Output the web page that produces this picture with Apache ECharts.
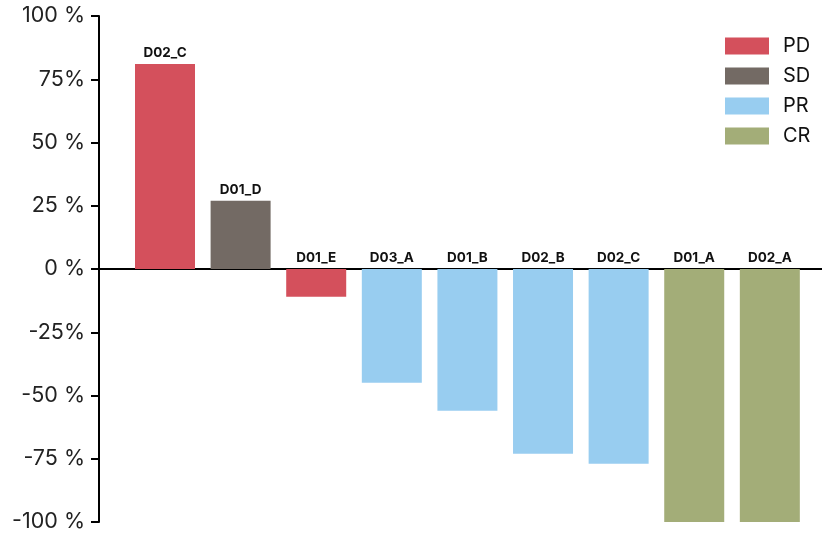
<!DOCTYPE html>
<html>
<head>
<meta charset="utf-8">
<script src="https://cdn.jsdelivr.net/npm/echarts@6/dist/echarts.min.js"></script>
<style>html,body{margin:0;padding:0;background:#fff;}#c{width:822px;height:535px;}</style>
</head>
<body>
<div id="c"></div>
<script>
const categories = ['D02_C','D01_D','D01_E','D03_A','D01_B','D02_B','D02_C','D01_A','D02_A'];
const values = [81, 27, -11, -45, -56, -73, -77, -100, -100];
const responses = ['PD','SD','PD','PR','PR','PR','PR','CR','CR'];
const groups = ['PD','SD','PR','CR'];
const colors = {PD:'#d4505c', SD:'#736a64', PR:'#98cdf0', CR:'#a3ad78'};
const tickValues = [100, 75, 50, 25, 0, -25, -50, -75, -100];
const tickLabels = ['100 %','75%','50 %','25 %','0 %','-25%','-50 %','-75 %','-100 %'];

const chart = echarts.init(document.getElementById('c'));
const series = groups.map(g => ({
  name: g,
  type: 'bar',
  barWidth: 60,
  barGap: '-100%',
  itemStyle: {color: colors[g]},
  data: values.map((v, i) => responses[i] === g ? {
    value: [i + 1, v],
    label: {
      show: true,
      position: 'top',
      distance: 4,
      formatter: categories[i],
      color: '#111',
      fontWeight: 'bold',
      fontSize: 13.5,
      fontFamily: 'Inter'
    }
  } : null).filter(d => d)
}));

chart.setOption({
  animation: false,
  grid: {left: 99, right: 0, top: 16, bottom: 13},
  legend: {
    orient: 'vertical', left: 720, top: 31,
    itemWidth: 44, itemHeight: 17, itemGap: 10,
    icon: 'rect',
    data: groups,
    textStyle: {fontSize: 20, color: '#111', fontFamily: 'Inter', padding: [0,0,0,9]}
  },
  xAxis: {
    type: 'value', min: 0.127, max: 9.69,
    axisLine: {onZero: true, lineStyle: {color: '#000', width: 2}},
    axisTick: {show: false}, axisLabel: {show: false}, splitLine: {show: false}
  },
  yAxis: {
    type: 'value', min: -100, max: 100, interval: 25,
    axisLine: {show: true, lineStyle: {color: '#000', width: 2}},
    axisTick: {show: true, length: 8, lineStyle: {color: '#000', width: 2}},
    splitLine: {show: false},
    axisLabel: {
      fontSize: 21.5, color: '#222', fontFamily: 'Inter', margin: 14,
      formatter: v => tickLabels[tickValues.indexOf(v)]
    }
  },
  series: series
});
</script>
</body>
</html>
